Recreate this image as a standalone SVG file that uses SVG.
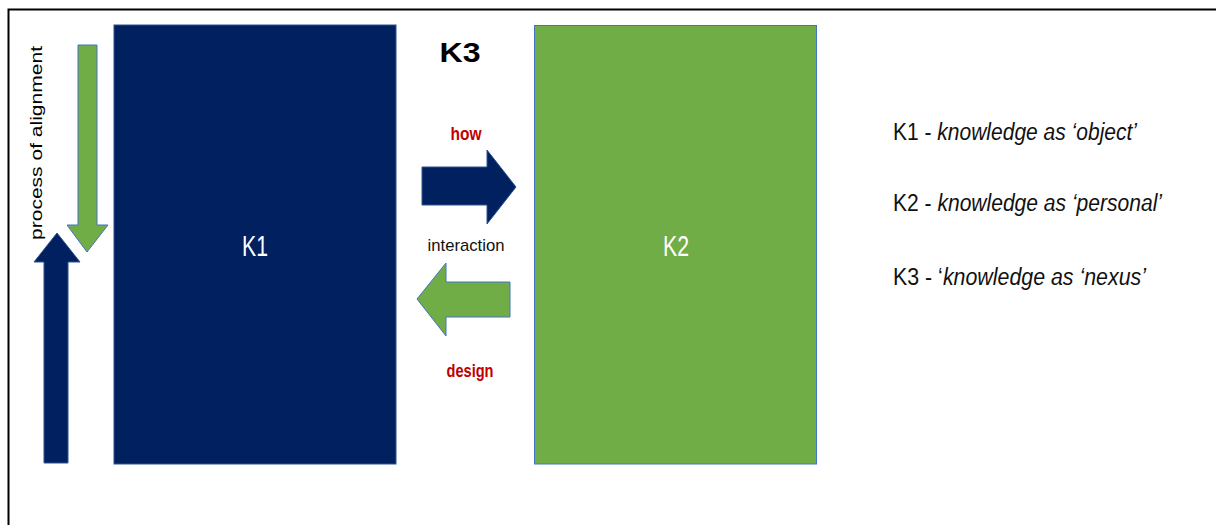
<svg xmlns="http://www.w3.org/2000/svg" width="1216" height="525" viewBox="0 0 1216 525">
<style>
.t{font-family:"Liberation Sans",Arial,sans-serif;}
.navy{fill:#002060;stroke:#2F528F;stroke-width:1}
.green{fill:#70AD47;stroke:#4472C4;stroke-width:1}
.red{fill:#C00000;font-weight:bold;font-size:19px}
.leg{font-size:23px;fill:#111}
</style>
<rect x="0" y="0" width="1216" height="525" fill="#fff"/>
<path d="M8.5 525 V9.5 H1216" fill="none" stroke="#000" stroke-width="2"/>
<g id="K1">
<rect class="navy" x="114" y="25" width="282" height="439"/>
<text class="t" x="255" y="256" font-size="29" fill="#fff" text-anchor="middle" textLength="26" lengthAdjust="spacingAndGlyphs">K1</text>
</g>
<g id="K2">
<rect class="green" x="534.5" y="25.5" width="282" height="438.5"/>
<text class="t" x="676" y="256" font-size="29" fill="#fff" text-anchor="middle" textLength="26" lengthAdjust="spacingAndGlyphs">K2</text>
</g>
<g id="K3">
<text class="t" x="460" y="62" font-size="28" font-weight="bold" fill="#000" text-anchor="middle" textLength="41" lengthAdjust="spacingAndGlyphs">K3</text>
</g>
<g id="connectors">
<polygon class="navy" points="44,463 44,262 34,262 57,233 80,262 68,262 68,463"/>
<polygon class="green" points="78,45 97,45 97,225 108,225 87,252 67,225 78,225"/>
<polygon class="navy" points="422,167 487,167 487,150 516,187 487,224 487,205 422,205"/>
<polygon class="green" points="510,282 446,282 446,263 417,299 446,336 446,317 510,317"/>
</g>
<g id="labels">
<text class="t" transform="translate(42,240) rotate(-90)" font-size="16" fill="#000" textLength="194" lengthAdjust="spacingAndGlyphs">process of alignment</text>
<text class="t red" x="466" y="140" text-anchor="middle" textLength="31" lengthAdjust="spacingAndGlyphs">how</text>
<text class="t" x="466" y="251" font-size="17" fill="#111" text-anchor="middle" textLength="77" lengthAdjust="spacingAndGlyphs">interaction</text>
<text class="t red" x="470" y="377" text-anchor="middle" textLength="47" lengthAdjust="spacingAndGlyphs">design</text>
</g>
<g id="legend">
<text class="t leg" x="893" y="140" textLength="244" lengthAdjust="spacingAndGlyphs">K1 - <tspan font-style="italic">knowledge as ‘object’</tspan></text>
<text class="t leg" x="893" y="211" textLength="269" lengthAdjust="spacingAndGlyphs">K2 - <tspan font-style="italic">knowledge as ‘personal’</tspan></text>
<text class="t leg" x="893" y="285" textLength="253" lengthAdjust="spacingAndGlyphs">K3 - ‘<tspan font-style="italic">knowledge as ‘nexus’</tspan></text>
</g>
</svg>
